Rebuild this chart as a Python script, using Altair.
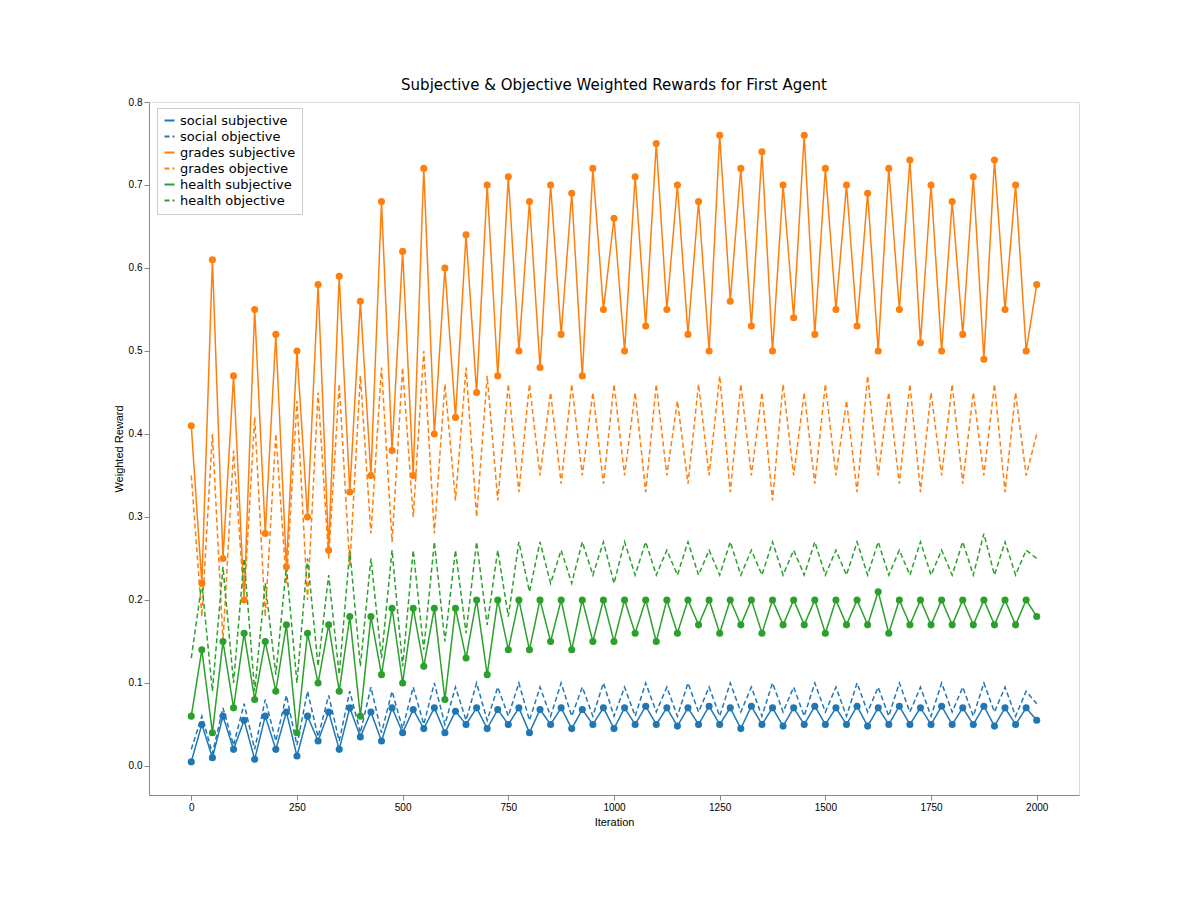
import altair as alt
import pandas as pd

iterations = list(range(0, 2001, 25))

social_subj = [0.005,0.05,0.01,0.06,0.02,0.055,0.008,0.06,0.02,0.065,0.012,0.06,0.03,0.065,0.02,0.07,0.035,0.065,0.03,0.07,0.04,0.068,0.045,0.07,0.04,0.066,0.05,0.07,0.045,0.068,0.05,0.07,0.04,0.068,0.05,0.07,0.045,0.068,0.05,0.07,0.045,0.07,0.05,0.072,0.05,0.07,0.048,0.07,0.05,0.072,0.05,0.07,0.045,0.072,0.05,0.07,0.048,0.07,0.05,0.072,0.05,0.07,0.05,0.072,0.048,0.07,0.05,0.072,0.05,0.07,0.05,0.072,0.05,0.07,0.05,0.072,0.048,0.07,0.05,0.07,0.055]
social_obj = [0.02,0.06,0.015,0.07,0.025,0.075,0.02,0.08,0.03,0.085,0.025,0.09,0.035,0.085,0.03,0.09,0.04,0.095,0.04,0.09,0.045,0.095,0.05,0.1,0.05,0.095,0.055,0.1,0.055,0.095,0.06,0.1,0.055,0.095,0.06,0.1,0.06,0.095,0.06,0.1,0.06,0.095,0.06,0.1,0.065,0.095,0.06,0.1,0.065,0.095,0.06,0.1,0.065,0.095,0.06,0.1,0.065,0.095,0.06,0.1,0.065,0.095,0.06,0.1,0.065,0.095,0.06,0.1,0.065,0.095,0.06,0.1,0.065,0.095,0.06,0.1,0.065,0.095,0.06,0.09,0.075]
grades_subj = [0.41,0.22,0.61,0.25,0.47,0.20,0.55,0.28,0.52,0.24,0.50,0.30,0.58,0.26,0.59,0.33,0.56,0.35,0.68,0.38,0.62,0.35,0.72,0.40,0.60,0.42,0.64,0.45,0.70,0.47,0.71,0.50,0.68,0.48,0.70,0.52,0.69,0.47,0.72,0.55,0.66,0.50,0.71,0.53,0.75,0.55,0.70,0.52,0.68,0.50,0.76,0.56,0.72,0.53,0.74,0.50,0.70,0.54,0.76,0.52,0.72,0.55,0.70,0.53,0.69,0.50,0.72,0.55,0.73,0.51,0.70,0.50,0.68,0.52,0.71,0.49,0.73,0.55,0.70,0.50,0.58]
grades_obj = [0.35,0.18,0.40,0.15,0.38,0.20,0.42,0.18,0.40,0.22,0.44,0.20,0.45,0.25,0.46,0.24,0.47,0.28,0.48,0.27,0.48,0.30,0.50,0.28,0.46,0.32,0.48,0.30,0.47,0.32,0.46,0.33,0.46,0.35,0.45,0.34,0.46,0.35,0.45,0.34,0.46,0.35,0.45,0.33,0.46,0.35,0.44,0.34,0.46,0.35,0.47,0.33,0.46,0.35,0.45,0.32,0.46,0.35,0.45,0.34,0.46,0.35,0.44,0.33,0.47,0.35,0.45,0.34,0.46,0.33,0.45,0.35,0.46,0.34,0.45,0.35,0.46,0.33,0.45,0.35,0.40]
health_subj = [0.06,0.14,0.04,0.15,0.07,0.16,0.08,0.15,0.09,0.17,0.04,0.16,0.10,0.17,0.09,0.18,0.06,0.18,0.11,0.19,0.10,0.19,0.12,0.19,0.08,0.19,0.13,0.20,0.11,0.20,0.14,0.20,0.14,0.20,0.15,0.20,0.14,0.20,0.15,0.20,0.15,0.20,0.16,0.20,0.15,0.20,0.16,0.20,0.17,0.20,0.16,0.20,0.17,0.20,0.16,0.20,0.17,0.20,0.17,0.20,0.16,0.20,0.17,0.20,0.17,0.21,0.16,0.20,0.17,0.20,0.17,0.20,0.17,0.20,0.17,0.20,0.17,0.20,0.17,0.20,0.18]
health_obj = [0.13,0.22,0.09,0.24,0.10,0.25,0.09,0.22,0.11,0.24,0.10,0.25,0.12,0.23,0.11,0.26,0.12,0.25,0.13,0.26,0.12,0.26,0.14,0.27,0.15,0.26,0.16,0.27,0.17,0.26,0.18,0.27,0.21,0.27,0.22,0.26,0.22,0.27,0.23,0.27,0.22,0.27,0.23,0.27,0.23,0.26,0.23,0.27,0.23,0.26,0.23,0.27,0.23,0.26,0.23,0.27,0.23,0.26,0.23,0.27,0.23,0.26,0.23,0.27,0.23,0.27,0.23,0.26,0.23,0.27,0.23,0.26,0.23,0.27,0.23,0.28,0.23,0.27,0.23,0.26,0.25]

names = ["social subjective","social objective","grades subjective","grades objective","health subjective","health objective"]
colors = ["#1f77b4","#1f77b4","#ff7f0e","#ff7f0e","#2ca02c","#2ca02c"]
dashes = [[1,0],[5,3],[1,0],[5,3],[1,0],[5,3]]
series = [social_subj, social_obj, grades_subj, grades_obj, health_subj, health_obj]

rows = []
for i, (n, vals) in enumerate(zip(names, series)):
    for it, v in zip(iterations, vals):
        rows.append({"Iteration": it, "Weighted Reward": v, "series": n, "order": i})
df = pd.DataFrame(rows)

color = alt.Color("series:N", scale=alt.Scale(domain=names, range=colors),
                  legend=alt.Legend(title=None, orient="none", legendX=8, legendY=6,
                                    strokeColor="#cccccc", fillColor="white", padding=6,
                                    labelFontSize=13, symbolType="stroke", symbolStrokeWidth=2,
                                    labelFont="DejaVu Sans"))
dash = alt.StrokeDash("series:N", scale=alt.Scale(domain=names, range=dashes), legend=None)

x = alt.X("Iteration:Q", scale=alt.Scale(domain=[-100, 2100], nice=False, zero=False),
          axis=alt.Axis(values=list(range(0, 2001, 250)), format="d", grid=False, titleFontWeight="normal"))
y = alt.Y("Weighted Reward:Q", scale=alt.Scale(domain=[-0.035, 0.8], nice=False),
          axis=alt.Axis(values=[0,0.1,0.2,0.3,0.4,0.5,0.6,0.7,0.8], format=".1f", grid=False,
                        titleFontWeight="normal"))

base = alt.Chart(df).encode(x=x, y=y, color=color)
lines = base.mark_line(strokeWidth=1.5).encode(strokeDash=dash, detail="series:N")
pts = base.transform_filter(alt.FieldOneOfPredicate(field="series", oneOf=names[0::2])) \
    .mark_circle(size=50, opacity=1).encode(color=alt.Color("series:N", scale=alt.Scale(domain=names, range=colors), legend=None))

chart = alt.layer(lines, pts).properties(
    width=930, height=693,
    title=alt.TitleParams("Subjective & Objective Weighted Rewards for First Agent", fontSize=15, fontWeight="normal", font="DejaVu Sans")
).configure_view(stroke="black").configure_axis(
    domainColor="black", tickColor="black", labelFont="DejaVu Sans", titleFont="DejaVu Sans",
    labelFontSize=12, titleFontSize=12, labelColor="black", titleColor="black"
).configure(padding={"left": 105, "top": 70, "right": 100, "bottom": 60})

chart.save("out.html", embed_options={"renderer": "svg", "actions": False})
